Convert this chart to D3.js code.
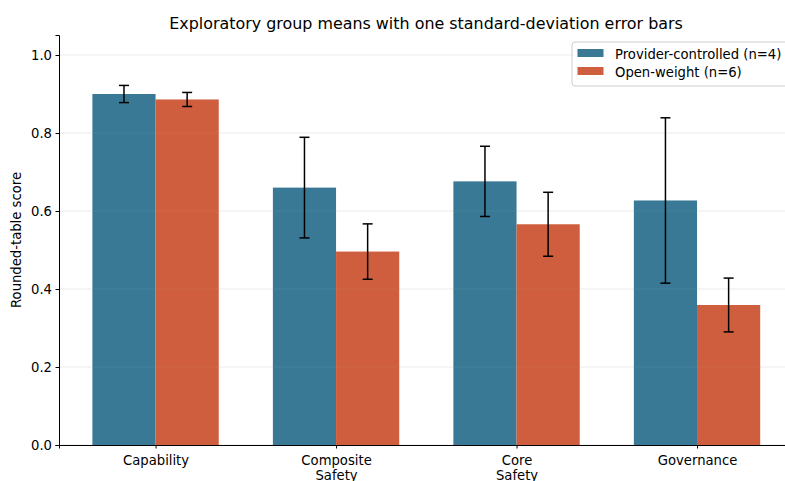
<!DOCTYPE html>
<html><head><meta charset="utf-8">
<script src="https://cdn.jsdelivr.net/npm/d3@7"></script>
<style>body{margin:0;background:#fff}svg{display:block}text{font-family:"DejaVu Sans",sans-serif;fill:#000}</style>
</head><body>
<svg id="c" width="785" height="481"></svg>
<script>
const categories = ["Capability", "Composite\nSafety", "Core\nSafety", "Governance"];
const seriesNames = ["Provider-controlled (n=4)", "Open-weight (n=6)"];
const providerMeans = [0.900, 0.660, 0.676, 0.627];
const providerSD = [0.022, 0.129, 0.090, 0.212];
const openMeans = [0.886, 0.496, 0.566, 0.359];
const openSD = [0.018, 0.071, 0.082, 0.069];
const yTicks = [0.0, 0.2, 0.4, 0.6, 0.8, 1.0];
const colors = ["#3a7995", "#cf5e3f"];

const svg = d3.select("#c");
const W = 785, H = 481;
const FS = 13.2;
const mLeft = 59, mRight = 793.6, mTop = 35, mBottom = 445;
const x = d3.scaleLinear().domain([-0.535, 3.535]).range([mLeft, mRight]);
const y = d3.scaleLinear().domain([0, 1.0513]).range([mBottom, mTop]);
const bw = 0.35;

const plot = svg.append("g");
plot.selectAll(".grid").data(yTicks).enter().append("line")
  .attr("x1", mLeft).attr("x2", W).attr("y1", d => y(d)).attr("y2", d => y(d))
  .attr("stroke", "#ebebeb").attr("stroke-width", 1);

const series = [
  {means: providerMeans, sd: providerSD, off: -bw/2, color: colors[0]},
  {means: openMeans, sd: openSD, off: bw/2, color: colors[1]}
];
series.forEach(s => {
  plot.selectAll(null).data(s.means).enter().append("rect")
    .attr("x", (d, i) => x(i + s.off - bw/2))
    .attr("width", (d, i) => x(i + s.off + bw/2) - x(i + s.off - bw/2))
    .attr("y", d => y(d)).attr("height", d => mBottom - y(d))
    .attr("fill", s.color);
});
// faint gridlines showing through bars
plot.selectAll(".grid2").data(yTicks.slice(1)).enter().append("line")
  .attr("x1", mLeft).attr("x2", W).attr("y1", d => y(d)).attr("y2", d => y(d))
  .attr("stroke", "#ffffff").attr("stroke-opacity", 0.06).attr("stroke-width", 1);
series.forEach(s => {
  s.means.forEach((m, i) => {
    const cx = x(i + s.off);
    const g = plot.append("g").attr("stroke", "#000").attr("stroke-width", 1.5);
    g.append("line").attr("x1", cx).attr("x2", cx).attr("y1", y(m + s.sd[i])).attr("y2", y(m - s.sd[i]));
    g.append("line").attr("x1", cx - 5).attr("x2", cx + 5).attr("y1", y(m + s.sd[i])).attr("y2", y(m + s.sd[i]));
    g.append("line").attr("x1", cx - 5).attr("x2", cx + 5).attr("y1", y(m - s.sd[i])).attr("y2", y(m - s.sd[i]));
  });
});

const yAxis = d3.axisLeft(y).tickValues(yTicks).tickFormat(d3.format(".1f")).tickSizeOuter(0).tickSize(3.5).tickPadding(3.5);
const ga = svg.append("g").attr("transform", `translate(${mLeft},0)`).call(yAxis);
ga.select(".domain").attr("stroke", "#000").attr("stroke-width", 1);
ga.selectAll("text").attr("font-size", FS).attr("font-family", "DejaVu Sans");
const xAxis = d3.axisBottom(x).tickValues(d3.range(categories.length)).tickFormat("").tickSizeOuter(0).tickSize(3.5);
const gx = svg.append("g").attr("transform", `translate(0,${mBottom})`).call(xAxis);
gx.select(".domain").attr("stroke", "#000").attr("stroke-width", 1);
gx.selectAll(".tick").each(function(d) {
  const t = d3.select(this).append("text").attr("text-anchor", "middle").attr("font-size", FS).attr("fill", "#000");
  categories[d].split("\n").forEach((ln, k) => {
    t.append("tspan").attr("x", 0).attr("y", 19.5 + k * 15).text(ln);
  });
});

const title = svg.append("text").attr("x", 426).attr("y", 28.5).attr("text-anchor", "middle")
  .attr("font-size", 15).text("Exploratory group means with one standard-deviation error bars");
const tl = title.node().getComputedTextLength();
if (tl > 0) title.attr("font-size", 15 * 514 / tl);
svg.append("text").attr("transform", `translate(21,${(mTop + mBottom) / 2}) rotate(-90)`).attr("text-anchor", "middle")
  .attr("font-size", FS).text("Rounded-table score");

const lg = svg.append("g").attr("transform", "translate(572,42)");
lg.append("rect").attr("x", 0).attr("y", 0).attr("width", 230).attr("height", 44).attr("rx", 3)
  .attr("fill", "#fff").attr("fill-opacity", 0.8).attr("stroke", "#cccccc");
seriesNames.forEach((n, i) => {
  lg.append("rect").attr("x", 5.5).attr("y", 7 + i * 18).attr("width", 26).attr("height", 8).attr("fill", colors[i]);
  lg.append("text").attr("x", 43).attr("y", 16.5 + i * 18).attr("font-size", FS).text(n);
});
</script>
</body></html>
